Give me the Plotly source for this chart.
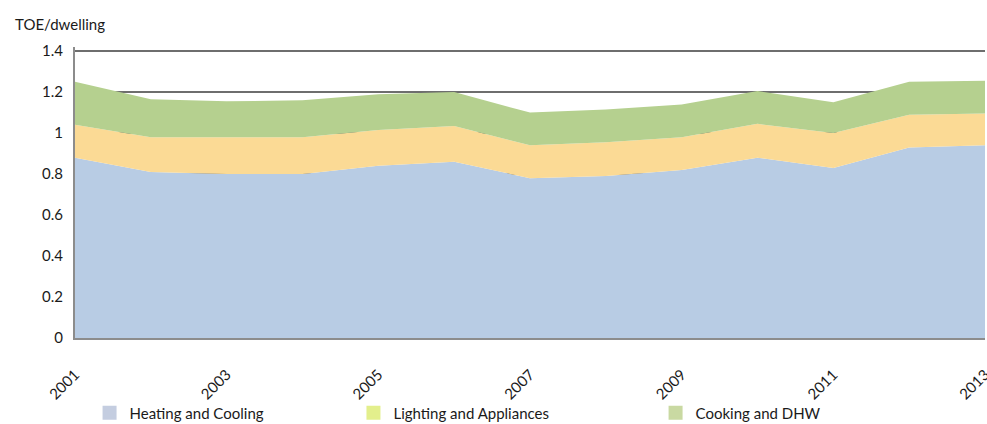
import plotly.graph_objects as go

# Household energy consumption per dwelling, by end use (TOE/dwelling)
years = [2001, 2002, 2003, 2004, 2005, 2006, 2007, 2008, 2009, 2010, 2011, 2012, 2013]
heating_cooling = [0.88, 0.81, 0.80, 0.80, 0.84, 0.86, 0.78, 0.79, 0.82, 0.88, 0.83, 0.93, 0.94]
lighting_appliances = [0.16, 0.17, 0.18, 0.18, 0.175, 0.175, 0.16, 0.165, 0.16, 0.165, 0.17, 0.16, 0.155]
cooking_dhw = [0.21, 0.185, 0.175, 0.18, 0.175, 0.165, 0.16, 0.16, 0.16, 0.16, 0.15, 0.16, 0.16]

series_names = ["Heating and Cooling", "Lighting and Appliances", "Cooking and DHW"]
series_values = [heating_cooling, lighting_appliances, cooking_dhw]
fill_colors = ["#b8cce4", "#fbda95", "#b5d08f"]
legend_colors = ["#c4cde0", "#e3ef8c", "#c9d9a2"]
legend_ids = ["legend", "legend2", "legend3"]
legend_x = [0.016, 0.306, 0.638]

y_ticks = [0, 0.2, 0.4, 0.6, 0.8, 1, 1.2, 1.4]
x_ticks = [2001, 2003, 2005, 2007, 2009, 2011, 2013]

FONT = "Lato, 'Open Sans', sans-serif"
TEXT = "#1a1a1a"

fig = go.Figure()

# Stacked areas
for name, vals, col in zip(series_names, series_values, fill_colors):
    fig.add_trace(go.Scatter(
        x=years, y=vals, name=name, mode="none",
        stackgroup="uses", fillcolor=col, showlegend=False,
        hoverinfo="x+y+name",
    ))

# Legend swatches (square markers, one legend per entry)
for name, col, lid in zip(series_names, legend_colors, legend_ids):
    fig.add_trace(go.Scatter(
        x=[None], y=[None], name=name, mode="markers",
        marker=dict(symbol="square", size=14, color=col),
        legend=lid, showlegend=True,
    ))

# plot area: 291 px tall for 0..1.42
PLOT_H = 291
legend_common = dict(
    orientation="h", yanchor="middle", y=-75 / PLOT_H, xanchor="left",
    font=dict(family=FONT, size=15, color=TEXT),
    bgcolor="rgba(0,0,0,0)", borderwidth=0,
)

fig.update_layout(
    width=987, height=424,
    margin=dict(l=75, r=2, t=47, b=86, autoexpand=False),
    paper_bgcolor="white", plot_bgcolor="white",
    font=dict(family=FONT, size=15, color=TEXT),
    legend=dict(x=legend_x[0], **legend_common),
    legend2=dict(x=legend_x[1], **legend_common),
    legend3=dict(x=legend_x[2], **legend_common),
    xaxis=dict(
        range=[2001, 2013], tickvals=x_ticks, ticktext=[str(v) for v in x_ticks],
        tickangle=-45, showgrid=False, zeroline=False, automargin=False,
        showline=True, linecolor="#8c8c8c", linewidth=2,
        ticks="", ticklabelstandoff=20, ticklabeloverflow="allow",
        tickfont=dict(family=FONT, size=15, color=TEXT),
    ),
    yaxis=dict(
        range=[0, 1.42], tickvals=y_ticks, ticktext=["0", "0.2", "0.4", "0.6", "0.8", "1", "1.2", "1.4"],
        showgrid=True, gridcolor="#6e6e6e", gridwidth=1.5, zeroline=False, automargin=False,
        showline=True, linecolor="#8c8c8c", linewidth=2,
        ticks="", ticklabelstandoff=7,
        tickfont=dict(family=FONT, size=15, color=TEXT),
    ),
    annotations=[dict(
        text="TOE/dwelling", xref="paper", yref="paper",
        x=-62 / 910, y=1 + 23 / PLOT_H, xanchor="left", yanchor="middle",
        showarrow=False, font=dict(family=FONT, size=15, color=TEXT),
    )],
)

fig.write_html("out.html")
